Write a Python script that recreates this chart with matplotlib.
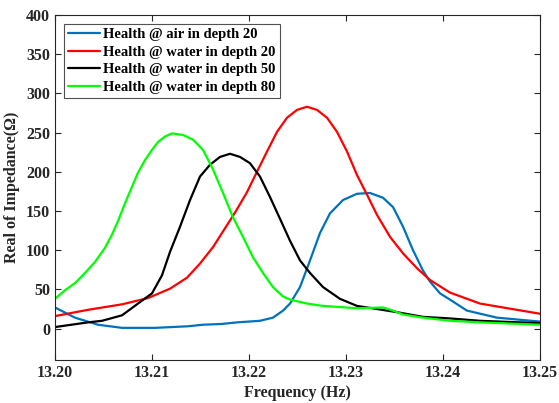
import matplotlib
matplotlib.use("Agg")
import matplotlib.pyplot as plt

# Resonance sweeps: real part of impedance (ohm) vs. frequency (Hz)
freq_air20 = [13.20000, 13.20206, 13.20443, 13.20691, 13.21031, 13.21371, 13.21526, 13.21722,
              13.21876, 13.22113, 13.22247, 13.22351, 13.22423, 13.22526, 13.22629, 13.22732,
              13.22835, 13.22969, 13.23113, 13.23247, 13.23381, 13.23485, 13.23588, 13.23691,
              13.23794, 13.23866, 13.23969, 13.24072, 13.24247, 13.24557, 13.25000]
real_air20 = [27, 14, 5, 1, 1, 3, 5, 6,
              8, 10, 14, 23, 32, 53, 87, 122,
              147, 164, 172, 173, 167, 155, 130, 100,
              74, 60, 45, 37, 23, 14, 9]

freq_water20 = [13.20000, 13.20340, 13.20691, 13.20959, 13.21186, 13.21361, 13.21495, 13.21629,
                13.21732, 13.21856, 13.21979, 13.22082, 13.22186, 13.22289, 13.22392, 13.22495,
                13.22598, 13.22701, 13.22804, 13.22907, 13.23010, 13.23113, 13.23216, 13.23320,
                13.23454, 13.23588, 13.23732, 13.23866, 13.24072, 13.24381, 13.25000]
real_water20 = [16, 24, 31, 39, 51, 65, 83, 104,
                124, 148, 174, 200, 226, 251, 269, 279,
                283, 279, 269, 251, 226, 196, 171, 145,
                117, 96, 77, 62, 46, 32, 19]

freq_water50 = [13.20000, 13.20340, 13.20485, 13.20691, 13.20856, 13.21000, 13.21103, 13.21186,
                13.21289, 13.21392, 13.21495, 13.21598, 13.21701, 13.21804, 13.21907,
                13.22010, 13.22113, 13.22216, 13.22320, 13.22423, 13.22526, 13.22629, 13.22763,
                13.22938, 13.23113, 13.23320, 13.23526, 13.23794, 13.24072, 13.24381, 13.25000]
real_water50 = [2, 8, 10, 17, 32, 45, 68, 98,
                130, 164, 194, 209, 219, 223, 219,
                211, 194, 168, 140, 112, 87, 71, 53,
                38, 29, 25, 21, 15, 13, 10, 7]

freq_water80 = [13.20000, 13.20103, 13.20206, 13.20309, 13.20412, 13.20515, 13.20588, 13.20649,
                13.20722, 13.20794, 13.20856, 13.20928, 13.21000, 13.21062, 13.21134, 13.21206,
                13.21320, 13.21423, 13.21526, 13.21629, 13.21732, 13.21835, 13.21938, 13.22041,
                13.22144, 13.22247, 13.22351, 13.22423, 13.22598, 13.22763, 13.23113, 13.23381,
                13.23485, 13.23588, 13.23794, 13.24072, 13.24381, 13.25000]
real_water80 = [38, 49, 58, 71, 85, 103, 120, 137,
                160, 181, 199, 215, 228, 238, 245, 249,
                247, 241, 228, 203, 173, 142, 117, 91,
                71, 53, 41, 37, 32, 29, 26, 27,
                23, 18, 14, 10, 8, 5]

series_labels = ["Health @ air in depth 20", "Health @ water in depth 20",
                 "Health @ water in depth 50", "Health @ water in depth 80"]
x_ticks = [13.20, 13.21, 13.22, 13.23, 13.24, 13.25]
x_tick_labels = ["13.20", "13.21", "13.22", "13.23", "13.24", "13.25"]
y_ticks = [0, 50, 100, 150, 200, 250, 300, 350, 400]

plt.rcParams["font.family"] = ["Liberation Serif", "DejaVu Serif"]
plt.rcParams["font.weight"] = "bold"

fig = plt.figure(figsize=(5.59, 4.03), dpi=100)
ax = fig.add_axes([55 / 559, 1 - 360 / 403, 485 / 559, 345 / 403])

colors = ["#0072BD", "#FF0000", "#000000", "#00FF00"]
data = [(freq_air20, real_air20), (freq_water20, real_water20),
        (freq_water50, real_water50), (freq_water80, real_water80)]
for (f, r), c, lab in zip(data, colors, series_labels):
    ax.plot(f, r, color=c, lw=1.6, label=lab,
            solid_joinstyle="round", solid_capstyle="round")

ax.set_xlim(13.20, 13.25)
ax.set_ylim(-40, 400)
ax.set_xticks(x_ticks)
ax.set_xticklabels(x_tick_labels)
ax.set_yticks(y_ticks)
ax.tick_params(direction="in", top=True, right=True, labelsize=11.5,
               length=4, width=0.8, colors="#262626", labelcolor="#262626")
for s in ax.spines.values():
    s.set_color("#262626")
    s.set_linewidth(0.8)

ax.set_xlabel("Frequency (Hz)", fontsize=11.5, fontweight="bold", color="#262626",
              labelpad=3)
ax.set_ylabel("Real of Impedance(Ω)", fontsize=11.5, fontweight="bold", color="#262626")

leg = ax.legend(loc="upper left", fontsize=10.5, frameon=True, fancybox=False,
                handlelength=2.2, handletextpad=0.2, borderpad=0.3,
                labelspacing=0.3, borderaxespad=0.6)
leg.get_frame().set_edgecolor("#262626")
leg.get_frame().set_linewidth(0.8)
for t in leg.get_texts():
    t.set_fontweight("bold")

fig.savefig("out.png", dpi=100)
